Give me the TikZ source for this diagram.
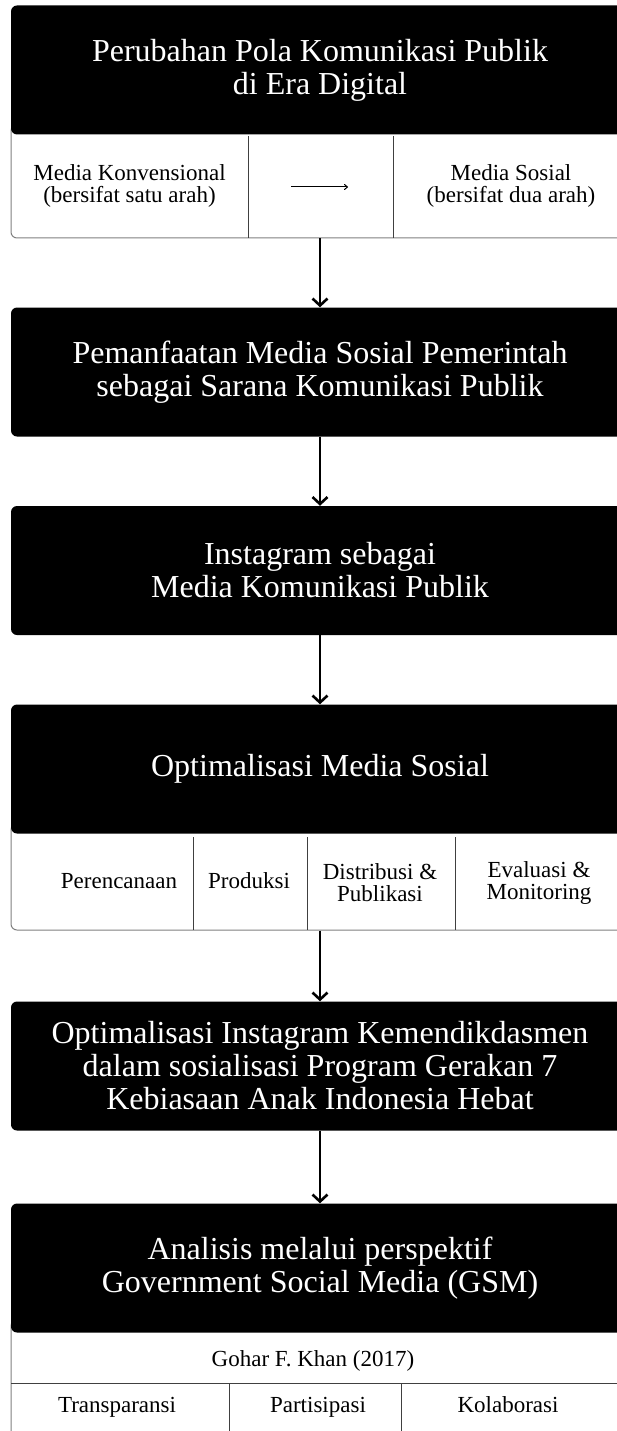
\documentclass[tikz,border=0pt]{standalone}
\usepackage{fontspec}
\setmainfont{Liberation Serif}
\usetikzlibrary{arrows.meta}
\begin{document}
\begin{tikzpicture}[
   x=1pt,y=-1pt,
   every node/.style={font=\fontsize{23}{22}\selectfont,align=center,inner sep=0pt},
   head/.style={fill=black,text=white,rounded corners=6pt,minimum width=618pt,minimum height=129pt,font=\fontsize{32}{33}\selectfont},
   panel/.style={draw=gray,line width=1pt,rounded corners=6pt,minimum width=618pt},
   cell/.style={draw=black!75,line width=1pt},
   oneline/.style={text height=16pt,text depth=2pt},
   onehead/.style={text height=22pt,text depth=7pt},
   flow/.style={-{Straight Barb[length=7pt,width=15pt]},line width=2.6pt},
   small/.style={-{To[length=4pt,width=6pt]},line width=1pt}]
\useasboundingbox (0,0) rectangle (617,1431);
\clip (0,0) rectangle (617,1431);
% panels behind the black boxes
\node[panel,minimum height=113pt] (p1) at (320,181.5) {};
\node[panel,minimum height=106pt] (p4) at (320,877) {};
\node[panel,minimum height=140pt] (p6) at (320,1390) {};
% black boxes
\node[head] (b1) at (320,70) {Perubahan Pola Komunikasi Publik\\di Era Digital};
\node[head] (b2) at (320,372) {Pemanfaatan Media Sosial Pemerintah\\sebagai Sarana Komunikasi Publik};
\node[head] (b3) at (320,570.5) {Instagram sebagai\\Media Komunikasi Publik};
\node[head,onehead] (b4) at (320,769) {Optimalisasi Media Sosial};
\node[head] (b5) at (320,1066) {Optimalisasi Instagram Kemendikdasmen\\dalam sosialisasi Program Gerakan 7\\Kebiasaan Anak Indonesia Hebat};
\node[head] (b6) at (320,1268) {Analisis melalui perspektif\\Government Social Media (GSM)};
% cells of the first panel
\draw[cell] (248,136) -- (248,238);
\draw[cell] (393,136) -- (393,238);
\node (konv) at (129.5,186) {Media Konvensional\\(bersifat satu arah)};
\node (sos) at (511,186) {Media Sosial\\(bersifat dua arah)};
\coordinate (from) at (291,187);
\coordinate (to) at (348,187);
\draw[small] (from) -- (to);
% cells of the fourth panel
\draw[cell] (193,837) -- (193,930);
\draw[cell] (307,837) -- (307,930);
\draw[cell] (455,837) -- (455,930);
\node[oneline] (plan) at (119,881) {Perencanaan};
\node[oneline] (prod) at (249,881) {Produksi};
\node (dist) at (380,883) {Distribusi \&\\Publikasi};
\node (eval) at (539,883) {Evaluasi \&\\Monitoring};
% cells of the last panel
\node[oneline] (khan) at (313,1359) {Gohar F. Khan (2017)};
\draw[cell] (11,1383) -- (629,1383);
\draw[cell] (229,1383) -- (229,1431);
\draw[cell] (401,1383) -- (401,1431);
\node[oneline] (trans) at (117,1405) {Transparansi};
\node[oneline] (part) at (318,1405) {Partisipasi};
\node[oneline] (kol) at (508,1405) {Kolaborasi};
% arrows
\draw[flow] (p1.south) -- (b2.north);
\draw[flow] (b2.south) -- (b3.north);
\draw[flow] (b3.south) -- (b4.north);
\draw[flow] (p4.south) -- (b5.north);
\draw[flow] (b5.south) -- (b6.north);
\end{tikzpicture}
\end{document}
